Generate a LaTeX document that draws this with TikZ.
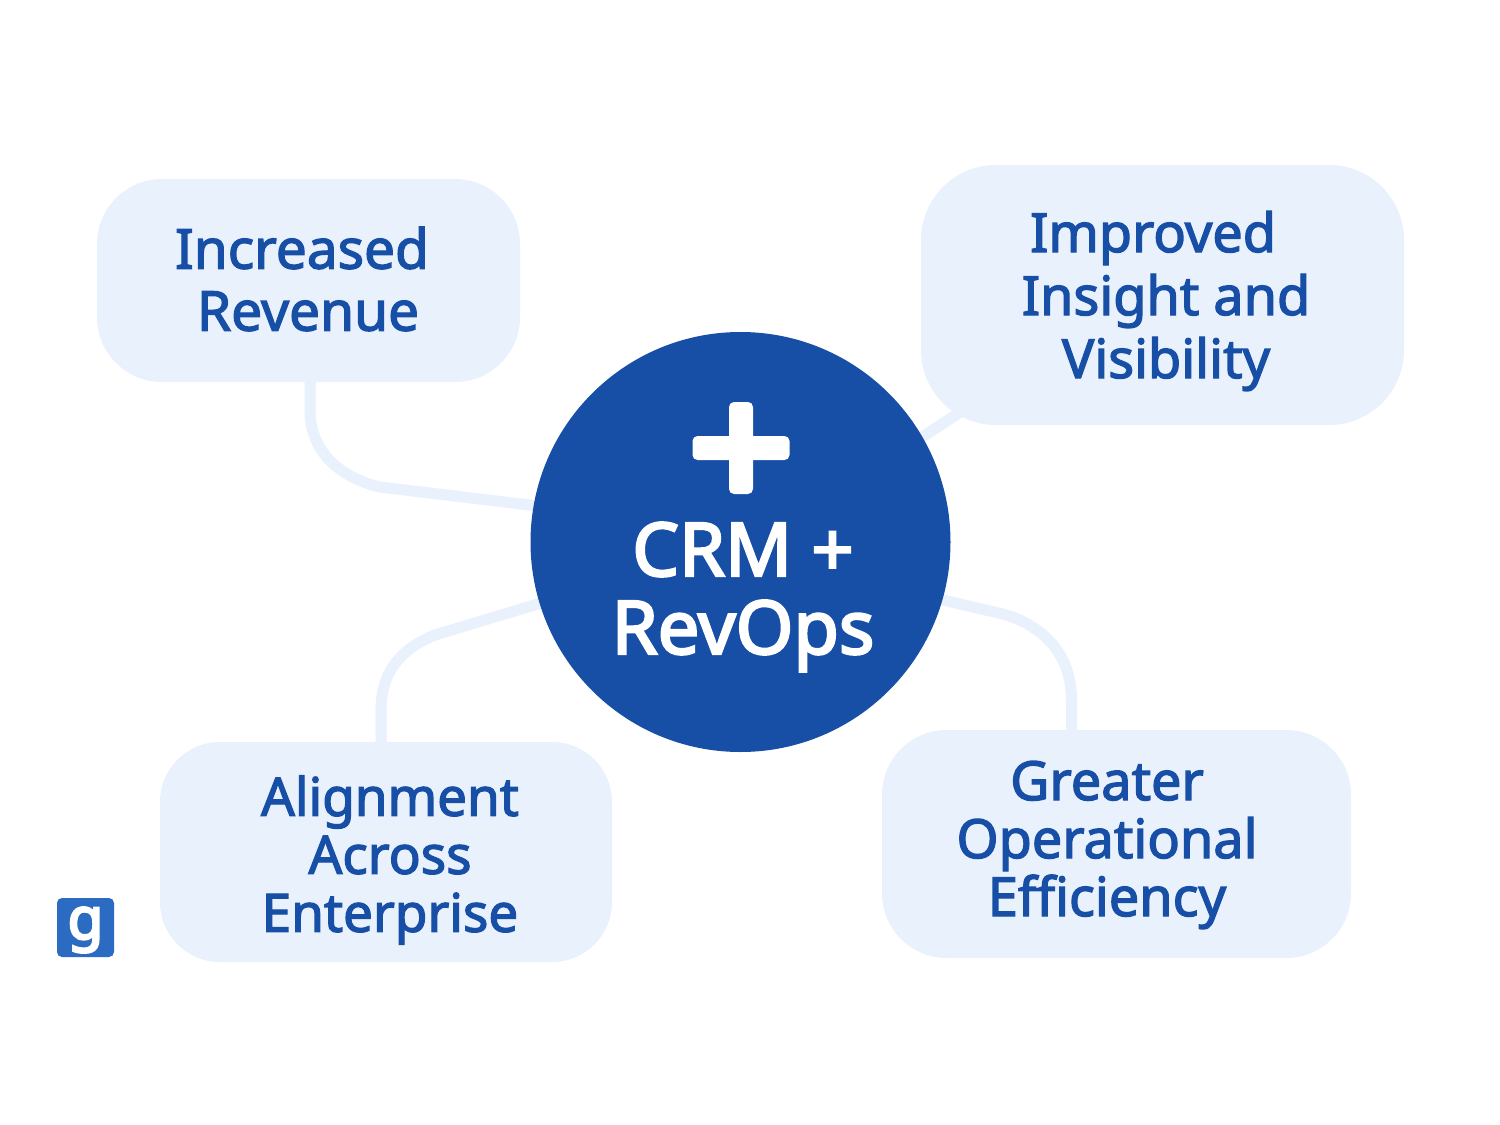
\documentclass[tikz,border=0pt]{standalone}
\usepackage{fontspec}
\newfontfamily\lblfont{Noto Sans}[FakeBold=2.4]
\newfontfamily\hubfont{Noto Sans}[FakeBold=3.2]
\newfontfamily\logofont{Noto Sans}[FakeBold=4]
\usetikzlibrary{backgrounds,calc}
\definecolor{hubblue}{HTML}{174EA6}
\definecolor{boxfill}{HTML}{E9F1FC}
\definecolor{linkcol}{HTML}{E8F1FC}
\definecolor{logoblue}{HTML}{2B6BC2}
\tikzset{
  benefit/.style={draw=none,fill=boxfill,inner sep=0pt},
  benefittext/.style={text=hubblue,align=center,inner sep=0pt},
  link/.style={draw=linkcol,line width=11pt,line cap=round,line join=round},
  hubnode/.style={circle,fill=hubblue,minimum size=420pt,inner sep=0pt},
  hubtext/.style={text=white,align=center,inner sep=0pt,font=\hubfont\fontsize{74}{78}\selectfont},
  plusbar/.style={fill=white,rounded corners=5pt,inner sep=0pt},
}
\begin{document}
\begin{tikzpicture}[x=1pt,y=-1pt]
\useasboundingbox (0,0) rectangle (1500,1125);
\node[hubnode] (hub) at (740.5,542) {};
\node[benefit,rounded corners=65pt,minimum width=423pt,minimum height=203pt] (rev) at (308.5,280.5) {};
\node[benefit,rounded corners=75pt,minimum width=483pt,minimum height=260pt] (ins) at (1162.5,295) {};
\node[benefit,rounded corners=60pt,minimum width=452pt,minimum height=220pt] (ali) at (386,852) {};
\node[benefit,rounded corners=65pt,minimum width=469pt,minimum height=228pt] (eff) at (1116.5,844) {};
\node[benefittext,font=\lblfont\fontsize{55}{62}\selectfont] (revt) at (302,279) {Increased\\\hspace*{12pt}Revenue};
\node[benefittext,font=\lblfont\fontsize{54}{63}\selectfont] (inst) at (1166,301) {Improved\hspace*{26pt}\\Insight and\\Visibility};
\node[benefittext,font=\lblfont\fontsize{53}{58}\selectfont] (alit) at (390,860) {Alignment\\Across\\Enterprise};
\node[benefittext,font=\lblfont\fontsize{54}{58}\selectfont] (efft) at (1107,845) {Greater\\Operational\\Efficiency};
\node[hubtext] (hubt) at (743,597) {CRM +\\RevOps};
\node[plusbar,minimum width=24pt,minimum height=92pt] (plusv) at (741,448) {};
\node[plusbar,minimum width=97pt,minimum height=24pt] (plush) at (741,448) {};
\node[fill=logoblue,rounded corners=5pt,minimum width=57pt,minimum height=59pt,inner sep=0pt] (logo) at (85.5,927.5) {};
\node[text=white,inner sep=0pt,font=\logofont\fontsize{58}{58}\selectfont] (logot) at (85.5,930) {g};
\begin{scope}[on background layer]
\fill[white] (0,0) rectangle (1500,1125);
\draw[link] ([xshift=1.5pt]rev.south) -- ++(0,28) .. controls +(0,45) and +(-35,-8) .. (380,487) -- (hub.170);
\draw[link] ([xshift=-5pt]ali.north) -- ++(0,-32) .. controls +(0,-45) and +(-25,10) .. (435,635) -- (hub.197);
\draw[link] ([xshift=-45pt]eff.north) -- ++(0,-30) .. controls +(0,-50) and +(35,10) .. (1003,614) -- (hub.344);
\draw[link] ([shift={(39pt,13pt)}]ins.south west) -- (hub.30);
\end{scope}
\end{tikzpicture}
\end{document}
